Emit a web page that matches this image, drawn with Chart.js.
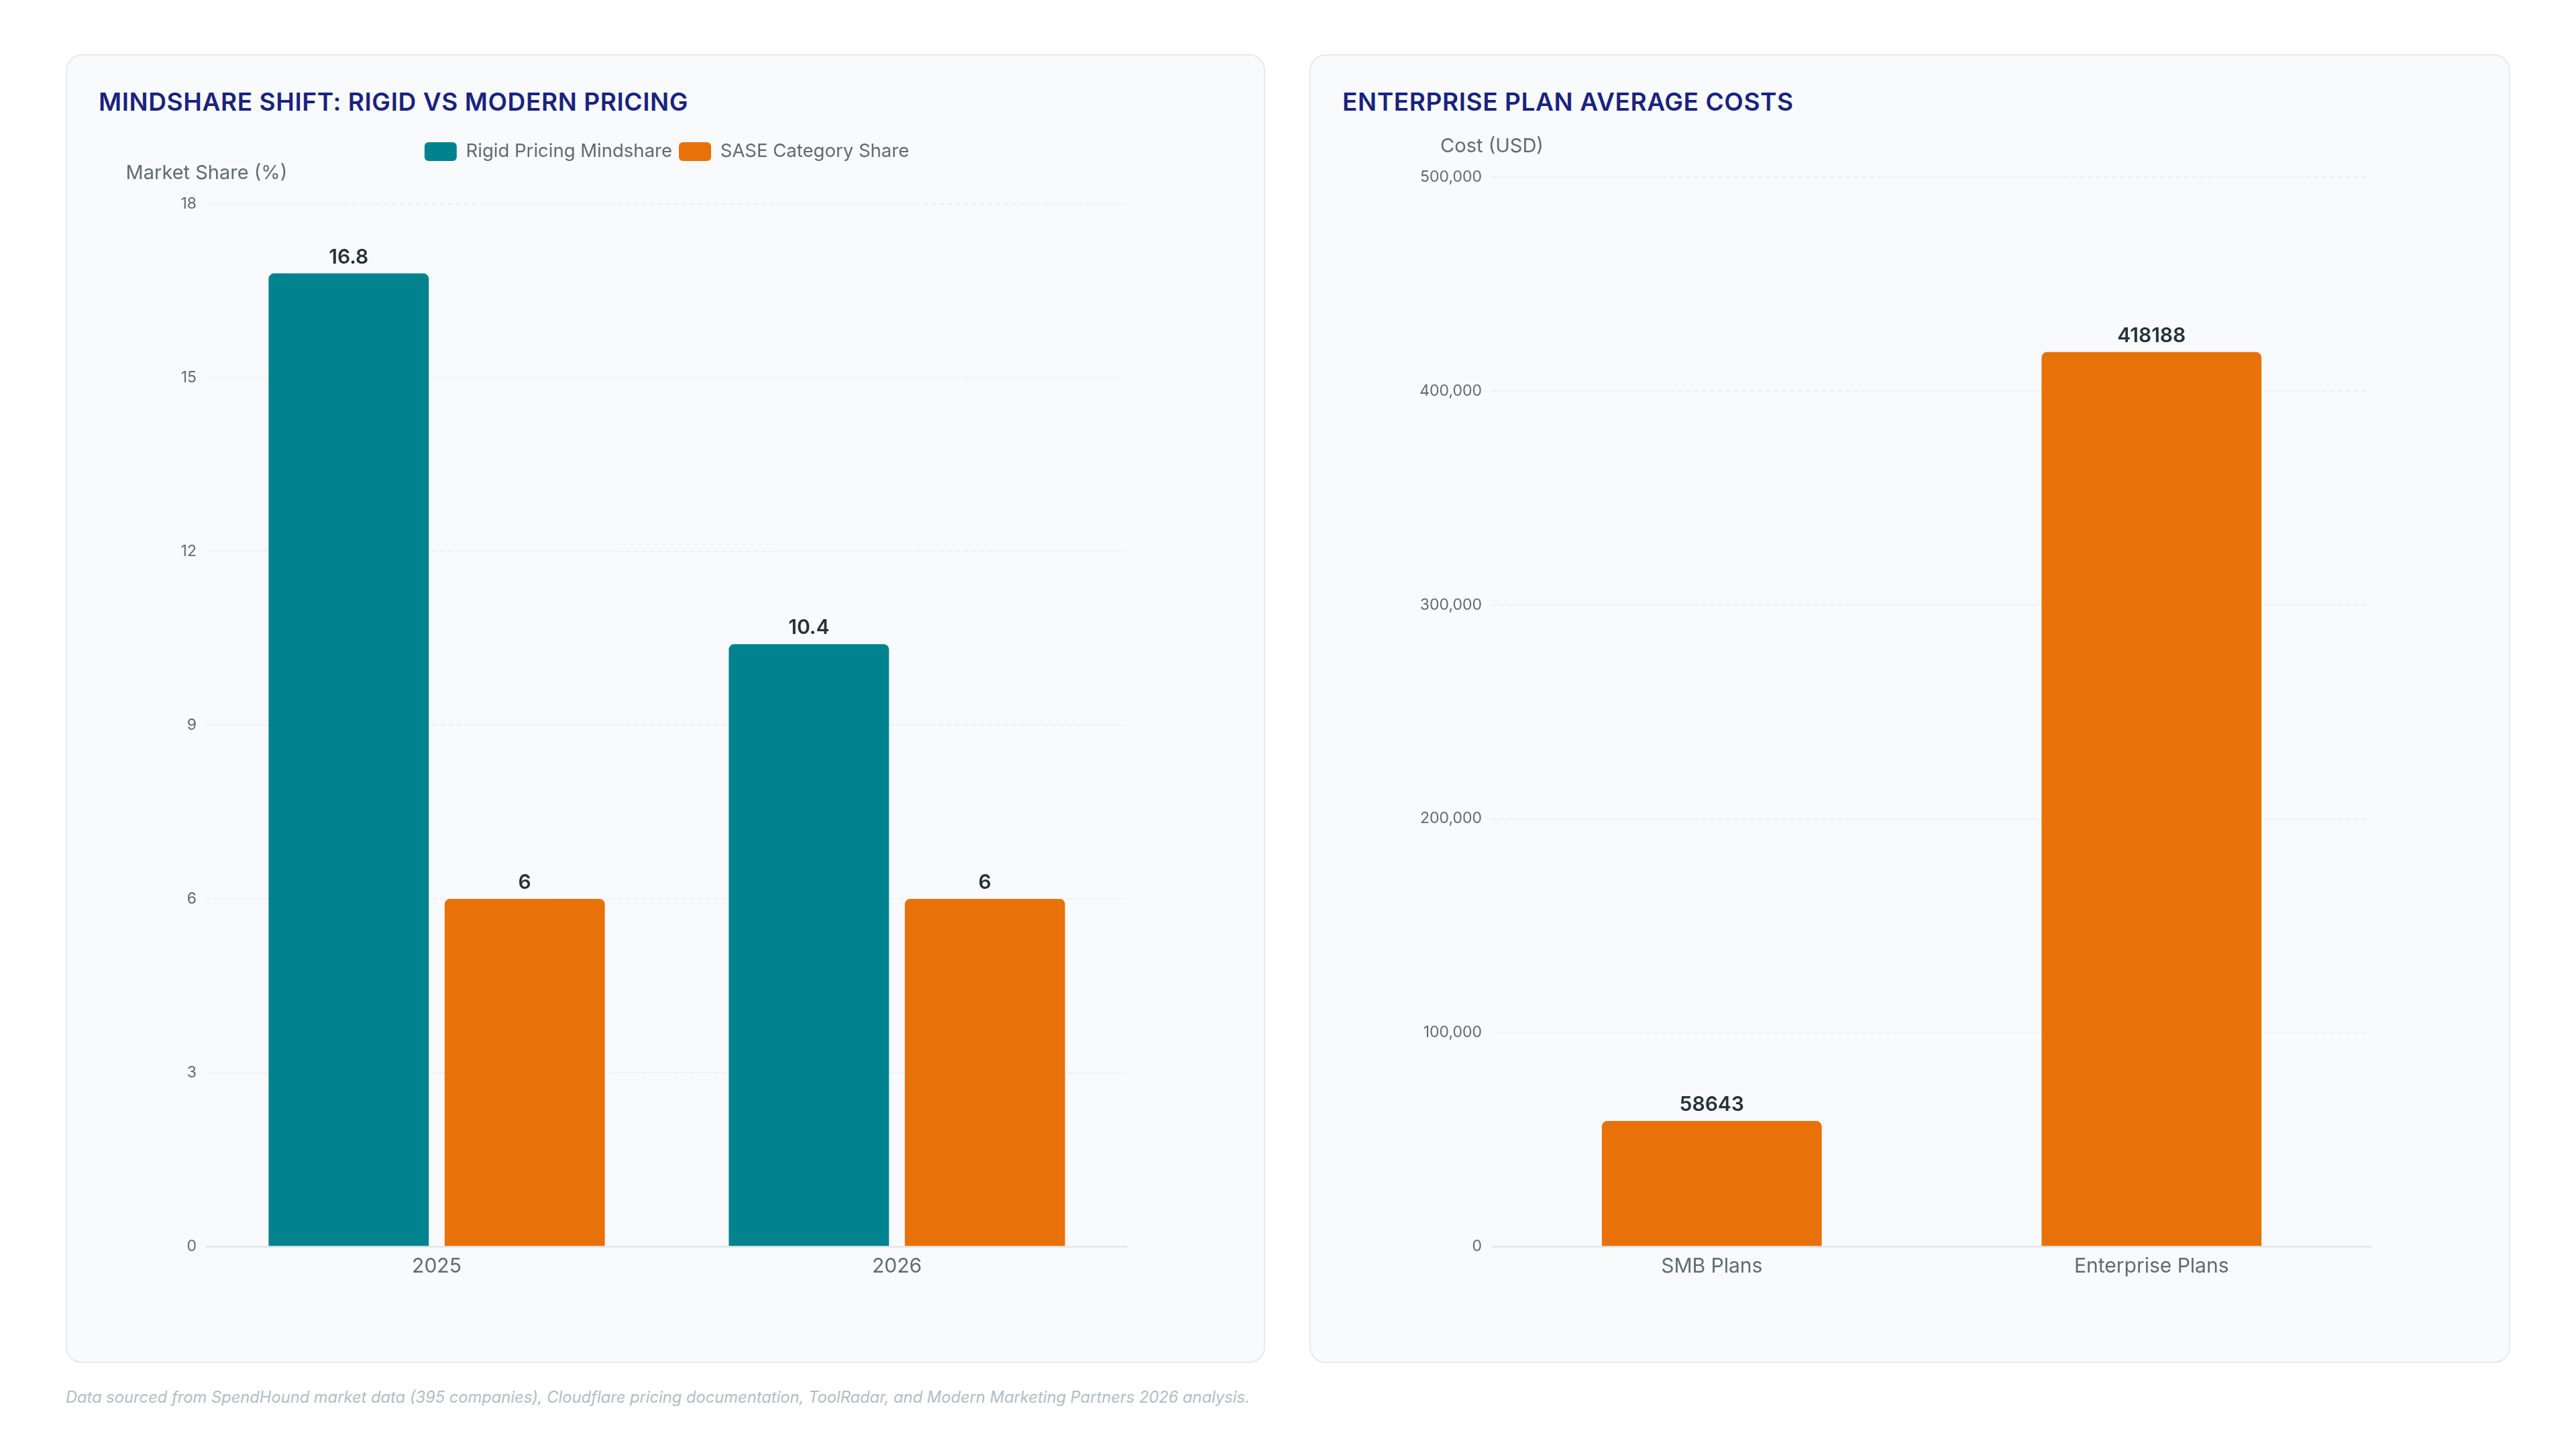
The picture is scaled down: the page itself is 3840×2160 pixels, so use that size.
<!DOCTYPE html>
<html>
<head>
<meta charset="utf-8">
<script src="https://cdn.jsdelivr.net/npm/chart.js@4.4.1/dist/chart.umd.min.js"></script>
<style>
  html, body { margin: 0; padding: 0; background: #ffffff; }
  body { width: 3840px; height: 2160px; position: relative; font-family: Inter, "Noto Sans", sans-serif; }
  .card {
    position: absolute; top: 81px; height: 1951px;
    background: #f8fafc; border: 2px solid #e6e9ed; border-radius: 24px;
    box-sizing: border-box;
  }
  #card1 { left: 98px; width: 1788px; }
  #card2 { left: 1952px; width: 1790px; }
  .card h2 {
    position: absolute; left: 47px; top: 46px; margin: 0;
    font: 600 37px Inter, sans-serif; letter-spacing: 0.6px; color: #1a237e;
  }
  .box { position: absolute; left: 47px; top: 109px; width: 1692px; height: 1770px; }
  .footer {
    position: absolute; left: 98px; top: 2068px;
    font: italic 23.7px Inter, sans-serif; color: #b0bec5;
  }
</style>
</head>
<body>
<div class="card" id="card1">
  <h2>MINDSHARE SHIFT: RIGID VS MODERN PRICING</h2>
  <div class="box"><canvas id="shareChart"></canvas></div>
</div>
<div class="card" id="card2">
  <h2>ENTERPRISE PLAN AVERAGE COSTS</h2>
  <div class="box"><canvas id="costChart"></canvas></div>
</div>
<div class="footer">Data sourced from SpendHound market data (395 companies), Cloudflare pricing documentation, ToolRadar, and Modern Marketing Partners 2026 analysis.</div>

<script>
// Chart data
var years = ['2025', '2026'];
var rigidMindshare = [16.8, 10.4];
var saseShare = [6, 6];

var planTypes = ['SMB Plans', 'Enterprise Plans'];
var planCosts = [58643, 418188];

var TEAL = '#00838f';
var ORANGE = '#e8710a';
var TICK_GREY = '#5f6b73';

// value labels above each bar
var valueLabels = {
    id: 'valueLabels',
    afterDatasetsDraw: function(chart) {
        var ctx = chart.ctx;
        ctx.save();
        ctx.font = '600 30px Inter';
        ctx.fillStyle = '#263238';
        ctx.textAlign = 'center';
        ctx.textBaseline = 'alphabetic';
        chart.data.datasets.forEach(function(ds, i) {
            chart.getDatasetMeta(i).data.forEach(function(bar, j) {
                ctx.fillText(ds.data[j], bar.x, bar.y - 15);
            });
        });
        ctx.restore();
    }
};

// axis name drawn horizontally above the y axis
var axisName = {
    id: 'axisName',
    afterDraw: function(chart, args, opts) {
        var ctx = chart.ctx;
        ctx.save();
        ctx.font = '29px Inter';
        ctx.fillStyle = TICK_GREY;
        ctx.textAlign = 'center';
        ctx.textBaseline = 'middle';
        ctx.fillText(opts.text, chart.chartArea.left, chart.chartArea.top - 46);
        ctx.restore();
    }
};

// extra room under the legend
var legendSpace = {
    id: 'legendSpace',
    beforeInit: function(chart) {
        if (!chart.legend) return;
        var origFit = chart.legend.fit;
        chart.legend.fit = function() {
            origFit.bind(chart.legend)();
            this.height += 54;
        };
    }
};

function yScale(max, step, width) {
    return {
        min: 0, max: max,
        afterFit: function(scale) { scale.width = width; },
        ticks: { stepSize: step, color: TICK_GREY, font: { family: 'Inter', size: 23 }, padding: 15 },
        grid: { color: '#e9edf0', lineWidth: 1.5, drawTicks: false },
        border: { display: false, dash: [7, 5] }
    };
}

function xScale() {
    return {
        ticks: { color: TICK_GREY, font: { family: 'Inter', size: 30 }, padding: 12 },
        grid: { display: false, drawTicks: false },
        border: { display: true, color: '#e5e8eb', width: 3 }
    };
}

new Chart(document.getElementById('shareChart'), {
    type: 'bar',
    data: {
        labels: years,
        datasets: [{
            label: 'Rigid Pricing Mindshare',
            data: rigidMindshare,
            backgroundColor: TEAL,
            borderRadius: 8,
            categoryPercentage: 0.765,
            barPercentage: 0.91
        }, {
            label: 'SASE Category Share',
            data: saseShare,
            backgroundColor: ORANGE,
            borderRadius: 8,
            categoryPercentage: 0.765,
            barPercentage: 0.91
        }]
    },
    options: {
        responsive: true,
        maintainAspectRatio: false,
        animation: false,
        layout: { padding: { top: 10, right: 159, bottom: 44, left: 0 } },
        scales: { x: xScale(), y: yScale(18, 3, 161) },
        plugins: {
            legend: {
                position: 'top',
                fullSize: false,
                labels: {
                    boxWidth: 48, boxHeight: 28, useBorderRadius: true, borderRadius: 6,
                    color: TICK_GREY, font: { family: 'Inter', size: 27.5 }, padding: 10
                }
            },
            tooltip: { enabled: false },
            axisName: { text: 'Market Share (%)' }
        }
    },
    plugins: [valueLabels, axisName, legendSpace]
});

new Chart(document.getElementById('costChart'), {
    type: 'bar',
    data: {
        labels: planTypes,
        datasets: [{
            label: 'Average Cost',
            data: planCosts,
            backgroundColor: ORANGE,
            borderRadius: 8,
            categoryPercentage: 0.8,
            barPercentage: 0.625
        }]
    },
    options: {
        responsive: true,
        maintainAspectRatio: false,
        animation: false,
        layout: { padding: { top: 72, right: 158, bottom: 44, left: 0 } },
        scales: { x: xScale(), y: yScale(500000, 100000, 223) },
        plugins: {
            legend: { display: false },
            tooltip: { enabled: false },
            axisName: { text: 'Cost (USD)' }
        }
    },
    plugins: [valueLabels, axisName]
});
</script>
</body>
</html>
